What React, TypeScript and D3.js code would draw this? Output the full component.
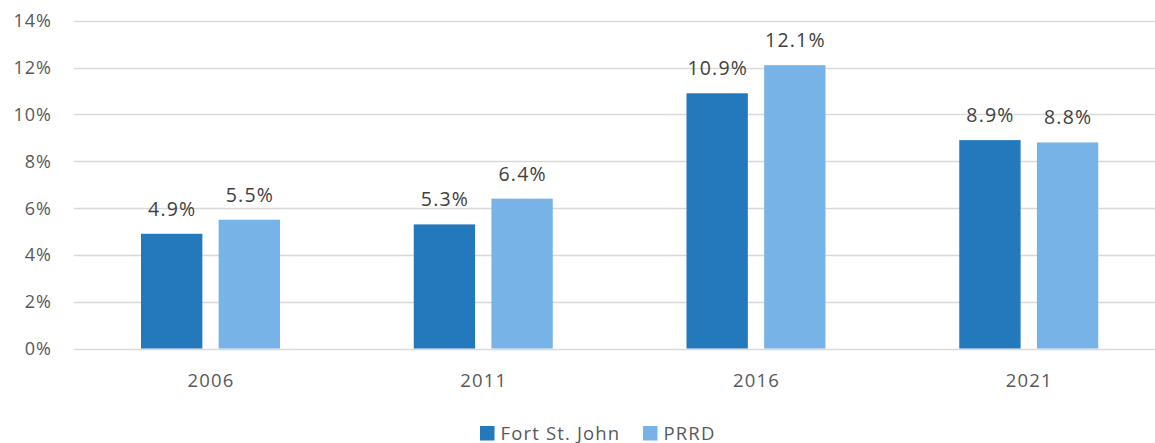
import React from "react";
import * as d3 from "d3";

const categories = ["2006", "2011", "2016", "2021"];
const seriesNames = ["Fort St. John", "PRRD"];
const fortStJohn = [4.9, 5.3, 10.9, 8.9];
const prrd = [5.5, 6.4, 12.1, 8.8];
const yTicks = [0, 2, 4, 6, 8, 10, 12, 14];
const colors = ["#2479BD", "#77B3E6"];

const W = 1155;
const H = 443;
const FONT = "'Open Sans', sans-serif";

export default function App() {
  const x0 = d3.scaleBand<string>().domain(categories).range([74, 1165]);
  const x1 = d3
    .scaleBand<string>()
    .domain(seriesNames)
    .range([67, 206])
    .paddingInner(0.21);
  const y = d3.scaleLinear().domain([0, 14]).range([348.5, 20.7]);
  const series = [fortStJohn, prrd];

  return (
    <svg
      width={W}
      height={H}
      style={{ position: "absolute", left: 0, top: 0, background: "#fff" }}
      fontFamily={FONT}
    >
      {yTicks.map((t) => (
        <g key={t}>
          <line
            x1={74}
            x2={1165}
            y1={Math.round(y(t)) + 0.5}
            y2={Math.round(y(t)) + 0.5}
            stroke="#D9D9D9"
            strokeWidth={1.5}
          />
          <text
            x={52}
            y={y(t) + 6.5}
            textAnchor="end"
            fontSize={18}
            letterSpacing={1}
            fill="#595959"
          >
            {t}%
          </text>
        </g>
      ))}
      {categories.map((c, i) => (
        <g key={c} transform={`translate(${x0(c)},0)`}>
          {series.map((s, j) => {
            const bx = x1(seriesNames[j])!;
            const bw = x1.bandwidth();
            return (
              <g key={j}>
                <rect
                  x={bx}
                  y={y(s[i])}
                  width={bw}
                  height={y(0) - y(s[i])}
                  fill={colors[j]}
                />
                <text
                  x={bx + bw / 2 + 0.6}
                  y={y(s[i]) - 18}
                  textAnchor="middle"
                  fontSize={19.5}
                  letterSpacing={1.2}
                  fill="#404040"
                >
                  {s[i].toFixed(1)}%
                </text>
              </g>
            );
          })}
          <text
            x={x0.bandwidth() / 2 + 0.6}
            y={387}
            textAnchor="middle"
            fontSize={18.5}
            letterSpacing={1.2}
            fill="#595959"
          >
            {c}
          </text>
        </g>
      ))}
      {seriesNames.map((n, j) => {
        const lx = [480, 643][j];
        return (
          <g key={n}>
            <rect x={lx} y={426} width={14.5} height={14.5} fill={colors[j]} />
            <text
              x={lx + 20.5}
              y={439.5}
              fontSize={18.5}
              letterSpacing={1.15}
              fill="#595959"
            >
              {n}
            </text>
          </g>
        );
      })}
    </svg>
  );
}
